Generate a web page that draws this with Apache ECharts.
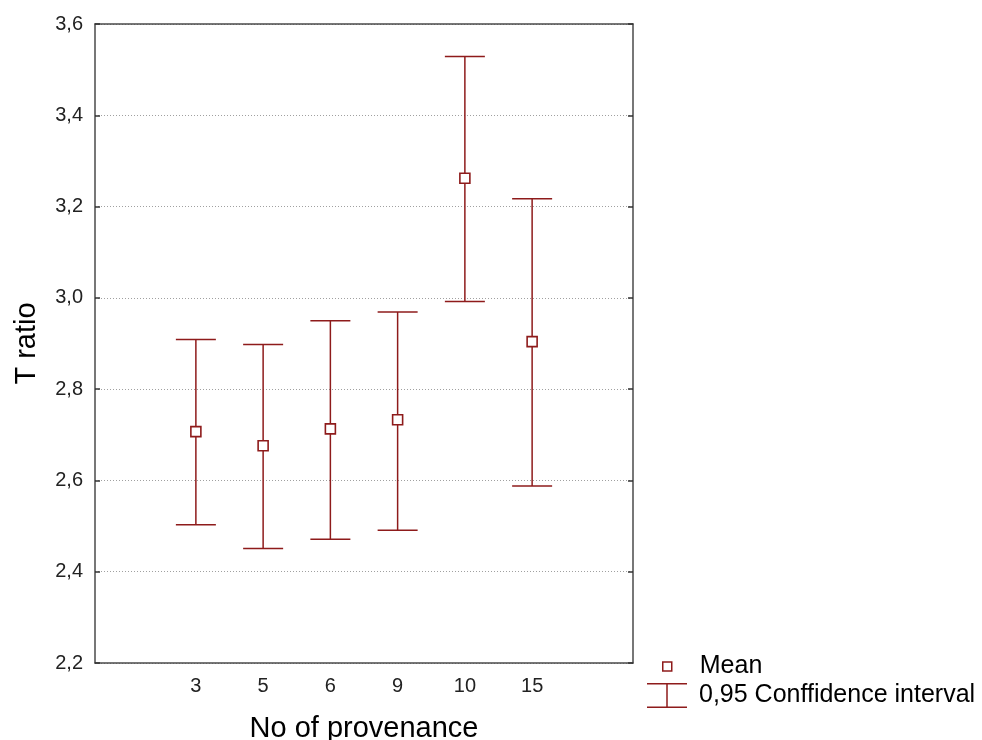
<!DOCTYPE html>
<html>
<head>
<meta charset="utf-8">
<script src="https://cdn.jsdelivr.net/npm/echarts@6/dist/echarts.min.js"></script>
<style>
html,body{margin:0;padding:0;background:#fff;}
#c{width:982px;height:740px;}
</style>
</head>
<body>
<div id="c"></div>
<script>
var categories = ['3', '5', '6', '9', '10', '15'];
var means = [2.707, 2.676, 2.713, 2.733, 3.262, 2.904];
var lower = [2.503, 2.451, 2.471, 2.491, 2.992, 2.588];
var upper = [2.909, 2.898, 2.950, 2.969, 3.529, 3.217];
var yTicks = { min: 2.2, max: 3.6, interval: 0.2 };

var RED = '#8e1b1b';
var FONT = '"Liberation Sans", Arial, sans-serif';
var xCats = [' '].concat(categories).concat(['  ']);

var meanData = means.map(function (v, i) { return [i + 1, v]; });
var ciData = lower.map(function (v, i) { return [i + 1, v, upper[i]]; });

var chart = echarts.init(document.getElementById('c'));
var axisLineStyle = { color: '#4a4a4a', width: 1.5 };
chart.setOption({
  backgroundColor: '#fff',
  animation: false,
  grid: { left: 95, right: 349, top: 24, bottom: 77, containLabel: false, outerBoundsMode: 'none' },
  legend: [
    {
      orient: 'vertical', left: 657, top: 649,
      itemWidth: 9, itemHeight: 9,
      textStyle: { fontFamily: FONT, fontSize: 25, color: '#000', padding: [0, 0, 0, 23] },
      data: [{ name: 'Mean', icon: 'rect', itemStyle: { color: '#fff', borderColor: RED, borderWidth: 1.5 } }],
      selectedMode: false
    },
    {
      orient: 'vertical', left: 642, top: 678,
      itemWidth: 40, itemHeight: 25,
      textStyle: { fontFamily: FONT, fontSize: 25, color: '#000', padding: [0, 0, 0, 7] },
      data: [{ name: '0,95 Conffidence interval',
               icon: 'path://M0,0H40V1.5H20.75V23.5H40V25H0V23.5H19.25V1.5H0Z',
               itemStyle: { color: RED, borderWidth: 0 } }],
      selectedMode: false
    }
  ],
  xAxis: [
    {
      type: 'category', data: xCats, boundaryGap: true,
      name: 'No of provenance', nameLocation: 'middle', nameGap: 51,
      nameTextStyle: { fontFamily: FONT, fontSize: 29, color: '#000' },
      axisLine: { lineStyle: axisLineStyle },
      axisTick: { inside: true, alignWithLabel: true, length: 5, interval: 0, lineStyle: { color: '#333', width: 1.5 } },
      axisLabel: { fontFamily: FONT, fontSize: 20, color: '#222', margin: 13, interval: 0 },
      splitLine: { show: false }
    },
    {
      type: 'category', data: xCats, boundaryGap: true, position: 'top',
      axisLine: { lineStyle: axisLineStyle },
      axisTick: { inside: true, alignWithLabel: true, length: 5, interval: 0, lineStyle: { color: '#333', width: 1.5 } },
      axisLabel: { show: false },
      splitLine: { show: false }
    }
  ],
  yAxis: [
    {
      type: 'value', min: yTicks.min, max: yTicks.max, interval: yTicks.interval,
      name: 'T ratio', nameLocation: 'middle', nameGap: 54,
      nameTextStyle: { fontFamily: FONT, fontSize: 29, color: '#000' },
      axisLine: { show: true, lineStyle: axisLineStyle },
      axisTick: { show: true, inside: true, length: 5, lineStyle: { color: '#333', width: 1.5 } },
      axisLabel: { fontFamily: FONT, fontSize: 20, color: '#222', margin: 12,
        formatter: function (v) { return v.toFixed(1).replace('.', ','); } },
      splitLine: { show: true, lineStyle: { color: '#a0a0a0', width: 1, type: [1, 2] } }
    },
    {
      type: 'value', min: yTicks.min, max: yTicks.max, interval: yTicks.interval, position: 'right',
      axisLine: { show: true, lineStyle: axisLineStyle },
      axisTick: { show: true, inside: true, length: 5, lineStyle: { color: '#333', width: 1.5 } },
      axisLabel: { show: false },
      splitLine: { show: false }
    }
  ],
  series: [
    {
      name: '0,95 Conffidence interval',
      type: 'custom',
      xAxisIndex: 0, yAxisIndex: 0,
      data: ciData,
      encode: { x: 0, y: [1, 2] },
      renderItem: function (params, api) {
        var x = api.value(0);
        var lo = api.coord([x, api.value(1)]);
        var hi = api.coord([x, api.value(2)]);
        var hw = 20;
        var st = { stroke: RED, lineWidth: 1.5, fill: null };
        return {
          type: 'group',
          children: [
            { type: 'line', shape: { x1: lo[0], y1: lo[1], x2: hi[0], y2: hi[1] }, style: st },
            { type: 'line', shape: { x1: lo[0] - hw, y1: lo[1], x2: lo[0] + hw, y2: lo[1] }, style: st },
            { type: 'line', shape: { x1: hi[0] - hw, y1: hi[1], x2: hi[0] + hw, y2: hi[1] }, style: st }
          ]
        };
      },
      z: 2
    },
    {
      name: 'Mean',
      type: 'scatter',
      xAxisIndex: 0, yAxisIndex: 0,
      data: meanData,
      symbol: 'rect', symbolSize: 10,
      itemStyle: { color: '#fff', borderColor: RED, borderWidth: 1.6, opacity: 1 },
      z: 5
    }
  ]
});
</script>
</body>
</html>
